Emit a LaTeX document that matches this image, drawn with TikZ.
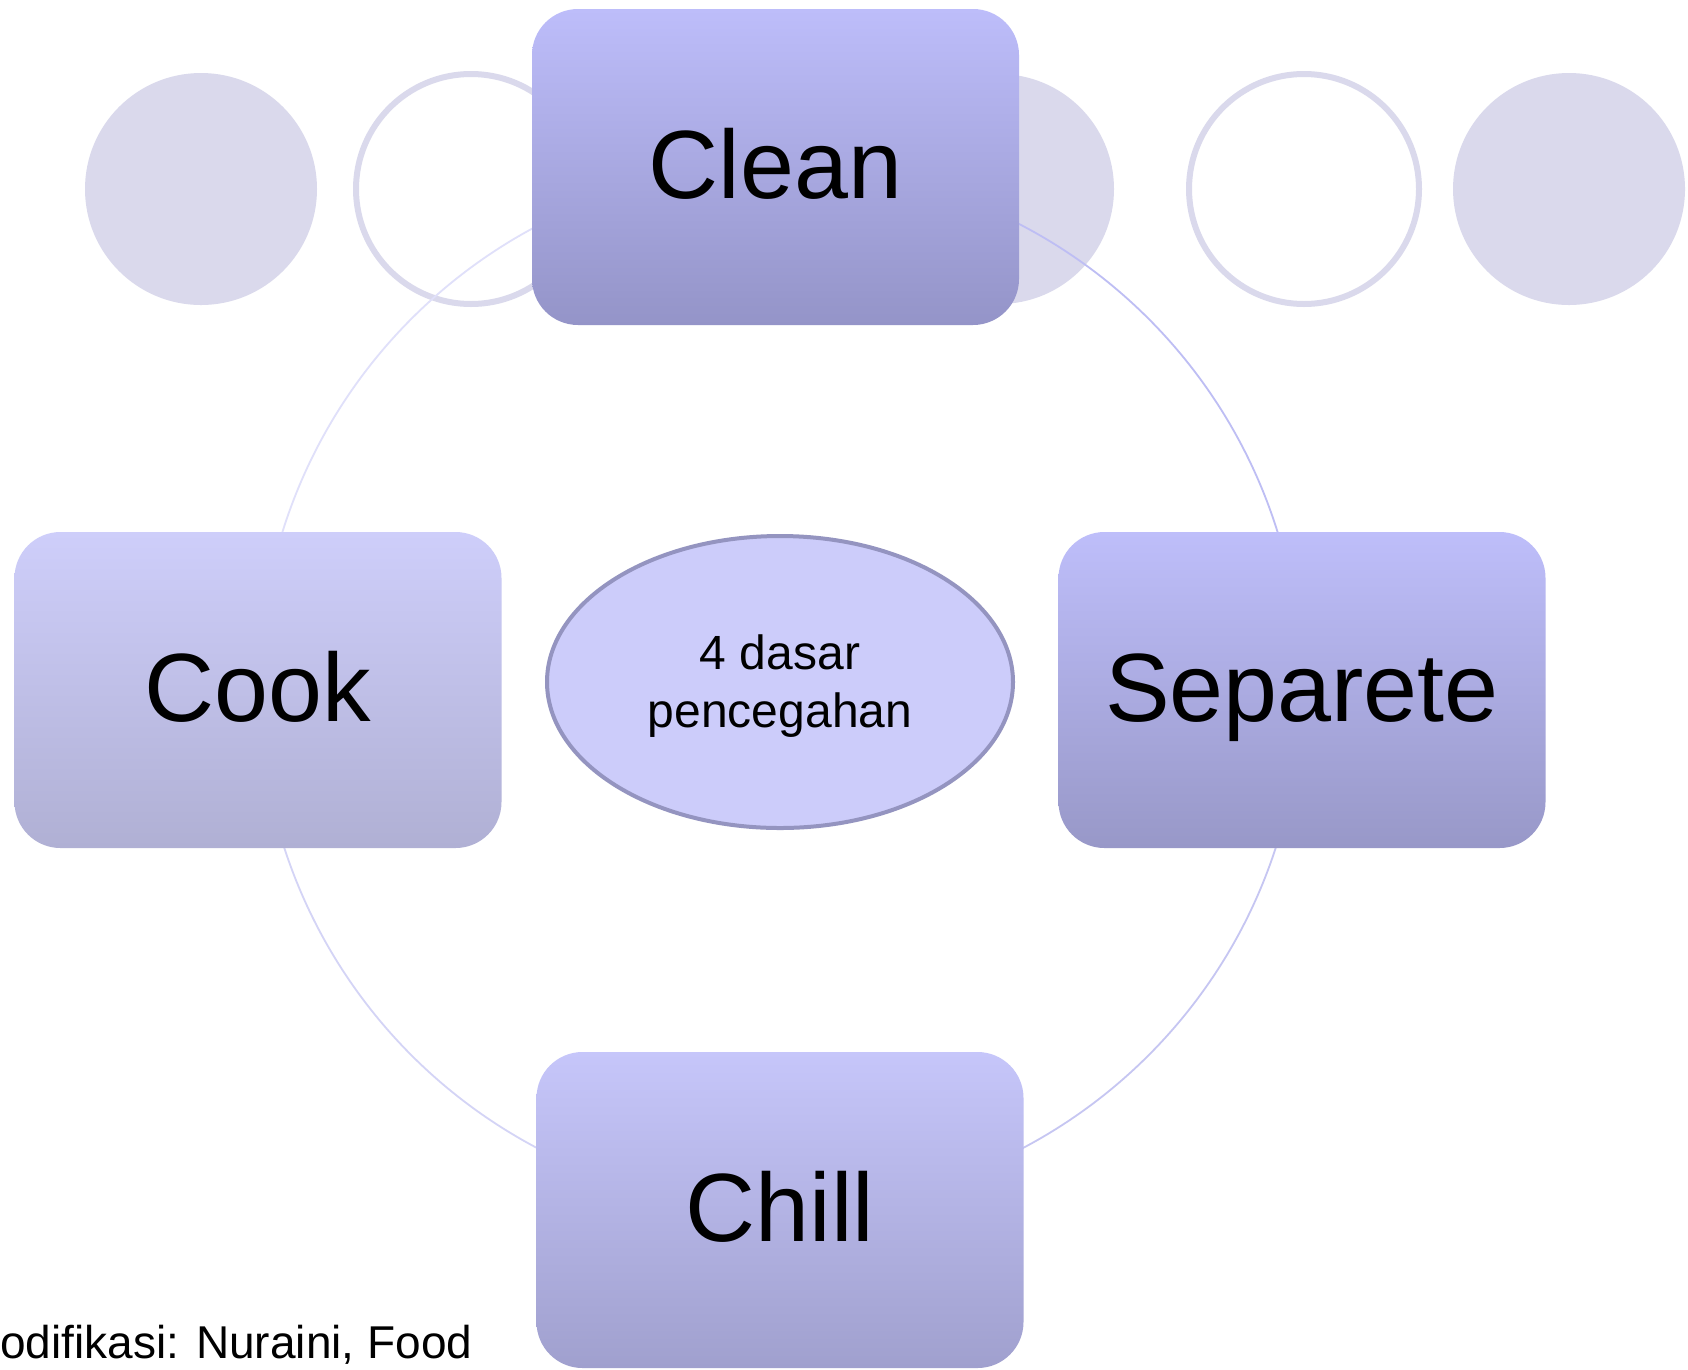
\documentclass[tikz,border=0pt]{standalone}
\usepackage{fontspec}
\setmainfont{Liberation Sans}
\usetikzlibrary{shadings,shapes.geometric}
\definecolor{deco}{RGB}{218,217,236}
\definecolor{ellfill}{RGB}{204,204,250}
\definecolor{elldraw}{RGB}{148,148,192}
\definecolor{arcA}{RGB}{190,190,244}
\definecolor{arcB}{RGB}{198,198,242}
\definecolor{arcC}{RGB}{212,212,246}
\definecolor{arcD}{RGB}{224,224,250}
\tikzset{
  decofill/.style={fill=deco, draw=none},
  decoring/.style={draw=deco, line width=6pt, fill=none},
  bigbox/.style={rectangle, rounded corners=46pt, minimum width=487pt, minimum height=316pt, inner sep=0pt,
     text height=62pt, text depth=0pt, font=\fontsize{97}{110}\selectfont, text=black},
  cyclearc/.style={line width=1.8pt},
  centerell/.style={ellipse, draw=elldraw, line width=4pt, fill=ellfill, minimum width=466pt, minimum height=292pt,
     inner sep=0pt},
  centretxt/.style={inner sep=0pt, align=center, font=\fontsize{48}{58}\selectfont, text=black},
  footer/.style={font=\fontsize{46}{54}\selectfont, text=black, inner sep=0pt},
}
\begin{document}
\begin{tikzpicture}[x=1pt,y=-1pt]
\useasboundingbox (0,0) rectangle (1688,1369);
\clip (0,0) rectangle (1688,1369);
\fill[white] (0,0) rectangle (1688,1369);
% decorative circles
\fill[decofill] (201,189) circle[radius=116];
\draw[decoring] (471,189) circle[radius=115];
\fill[decofill] (999,189) circle[radius=115];
\draw[decoring] (1304,189) circle[radius=115];
\fill[decofill] (1569,189) circle[radius=116];
% anchor points of the nodes on the cycle
\coordinate (pclean) at (780,166);
\coordinate (psep) at (1301,687);
\coordinate (pchill) at (780,1208);
\coordinate (pcook) at (259,687);
% cycle arcs (under the boxes)
\draw[cyclearc, arcA] (pclean) arc[start angle=270, end angle=360, radius=521];
\draw[cyclearc, arcB] (psep) arc[start angle=0, end angle=90, radius=521];
\draw[cyclearc, arcC] (pchill) arc[start angle=90, end angle=180, radius=521];
\draw[cyclearc, arcD] (pcook) arc[start angle=180, end angle=270, radius=521];
% boxes
\node[bigbox, top color={rgb,255:red,189;green,189;blue,250}, bottom color={rgb,255:red,148;green,148;blue,200}]
  (clean) at (775.5,167) {Clean};
\node[bigbox, top color={rgb,255:red,190;green,190;blue,250}, bottom color={rgb,255:red,152;green,152;blue,200}]
  (separete) at (1302,690) {Separete};
\node[bigbox, top color={rgb,255:red,206;green,206;blue,250}, bottom color={rgb,255:red,176;green,176;blue,212}]
  (cook) at (258,690) {Cook};
\node[bigbox, top color={rgb,255:red,198;green,198;blue,250}, bottom color={rgb,255:red,160;green,160;blue,206}]
  (chill) at (780,1210) {Chill};
% centre
\node[centerell] (centre) at (780,682) {};
\node[centretxt] (centrelabel) at (780,686.5) {4 dasar\\pencegahan};
% footer
\node[footer, anchor=base west] (foot) at (0,1358) {odifikasi: Nuraini, Food};
\end{tikzpicture}
\end{document}
